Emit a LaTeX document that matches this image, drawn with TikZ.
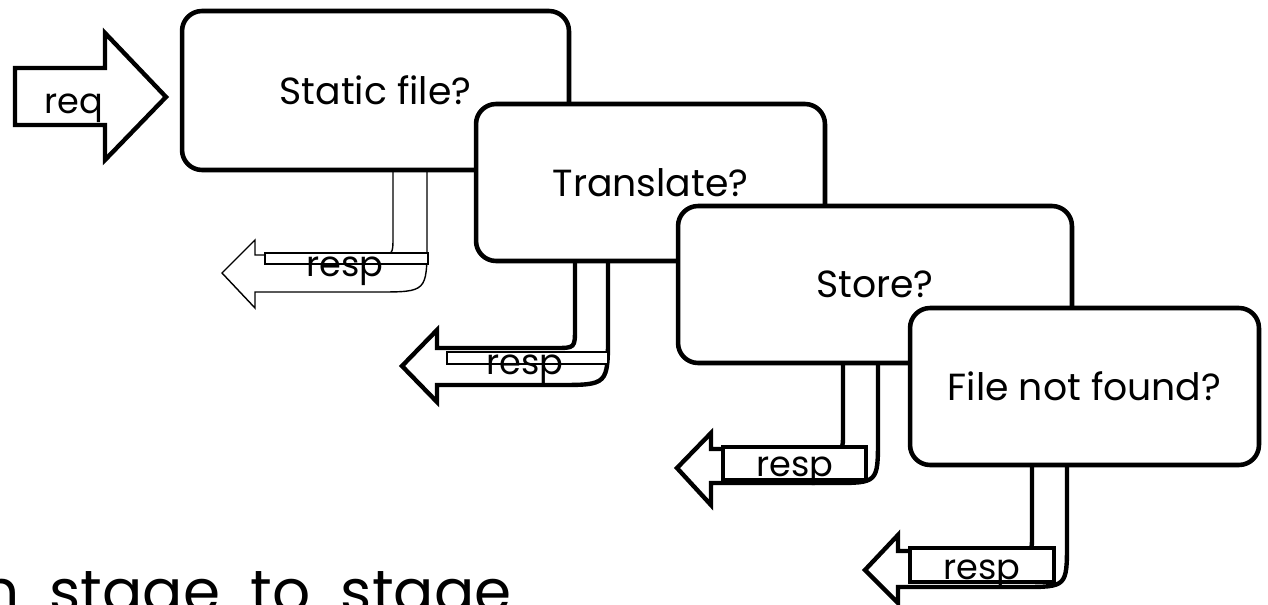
\documentclass[tikz,border=0pt]{standalone}
\usepackage{fontspec}
\setmainfont{Poppins}
\newfontfamily\widefont[WordSpace=1.9]{Poppins}
\usetikzlibrary{positioning}

\begin{document}
\begin{tikzpicture}[x=0.02cm,y=-0.02cm]
\tikzstyle{stage} = [rectangle, draw=black, line width=2.6pt, fill=white,
rounded corners=0.4cm, inner sep=0pt, font=\fontsize{21.5}{24}\selectfont]
\tikzstyle{pipe} = [draw=black, fill=white, line width=2.5pt, line join=miter]
\tikzstyle{thinpipe} = [draw=black, fill=white, line width=0.8pt]
\tikzstyle{tag} = [rectangle, draw=black, fill=white, inner sep=0pt]
\tikzstyle{word} = [inner sep=0pt, anchor=base, font=\fontsize{20}{22}\selectfont]

\useasboundingbox (0,0) rectangle (1268,605);
\clip (0,0) rectangle (1268,605);

% request in
\path[pipe] (15,68) -- (105,68) -- (105,33) -- (166,97) -- (105,160)
  -- (105,125) -- (15,125) -- cycle;
\node[word] (req) at (74,113) {req};

% stage 1
\path[thinpipe] (393,165) -- (393,237) .. controls (393,255) .. (375,255)
  -- (255,255) -- (255,240) -- (222,273) -- (255,308) -- (255,292)
  -- (377,292) .. controls (427,292) .. (427,242) -- (427,165) -- cycle;
\node[tag, line width=0.8pt, minimum width=3.26cm, minimum height=0.22cm] (tag1) at (346.5,258.5) {};
\node[word] (resp1) at (345,276) {resp};
\node[stage, minimum width=7.74cm, minimum height=3.18cm] (static) at (375.5,90.5) {Static file?};

% stage 2
\path[pipe] (575,256) -- (575,328) .. controls (575,348) .. (555,348)
  -- (437,348) -- (437,330) -- (402,366) -- (437,402) -- (437,385)
  -- (558,385) .. controls (608,385) .. (608,335) -- (608,256) -- cycle;
\node[tag, line width=0.8pt, minimum width=3.22cm, minimum height=0.24cm] (tag2) at (527.5,358) {};
\node[word] (resp2) at (525,374) {resp};
\node[stage, minimum width=6.98cm, minimum height=3.14cm] (translate) at (650.5,182.5) {Translate?};

% stage 3
\path[pipe] (843,358) -- (843,435) .. controls (843,449) .. (829,449)
  -- (711,449) -- (711,433) -- (677,468) -- (711,505) -- (711,483)
  -- (833,483) .. controls (878,483) .. (878,438) -- (878,358) -- cycle;
\node[tag, line width=2.5pt, minimum width=2.86cm, minimum height=0.66cm] (tag3) at (794.5,463.5) {};
\node[word] (resp3) at (795,476) {resp};
\node[stage, minimum width=7.88cm, minimum height=3.14cm] (store) at (875,284.5) {Store?};

% stage 4
\path[pipe] (1032,460) -- (1032,537) .. controls (1032,551) .. (1018,551)
  -- (898,551) -- (898,535) -- (865,570) -- (898,603) -- (898,587)
  -- (1022,587) .. controls (1067,587) .. (1067,542) -- (1067,460) -- cycle;
\node[tag, line width=2.5pt, minimum width=2.88cm, minimum height=0.68cm] (tag4) at (982,565) {};
\node[word] (resp4) at (982,579) {resp};
\node[stage, minimum width=6.98cm, minimum height=3.14cm] (notfound) at (1084.5,386.5) {File not found?};

% text below
\node[inner sep=0pt, anchor=base east, font=\widefont\fontsize{34}{38}\selectfont] (caption) at (512,612) {n stage to stage};

\end{tikzpicture}
\end{document}
